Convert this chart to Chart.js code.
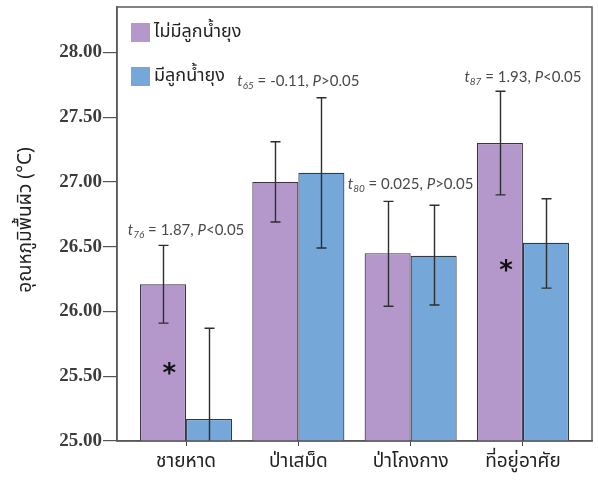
<!DOCTYPE html>
<html><head><meta charset="utf-8">
<script src="https://cdn.jsdelivr.net/npm/chart.js@4.4.1/dist/chart.umd.min.js"></script>
<style>html,body{margin:0;padding:0;background:#fff}#wrap{width:598px;height:481px}</style>
</head><body><div id="wrap"><canvas id="c" width="598" height="481"></canvas></div>
<script>
// Surface temperature by habitat, with / without mosquito larvae
const categories = ['ชายหาด', 'ป่าเสม็ด', 'ป่าโกงกาง', 'ที่อยู่อาศัย'];
const seriesNames = ['ไม่มีลูกน้ำยุง', 'มีลูกน้ำยุง'];

const noLarvae     = [26.21, 27.00, 26.45, 27.30];
const noLarvaeLow  = [25.91, 26.69, 26.04, 26.90];
const noLarvaeHigh = [26.51, 27.31, 26.85, 27.70];

const withLarvae     = [25.17, 27.07, 26.43, 26.53];
const withLarvaeLow  = [24.47, 26.49, 26.05, 26.18];
const withLarvaeHigh = [25.87, 27.65, 26.82, 26.87];

const yTickLabels = ['25.00', '25.50', '26.00', '26.50', '27.00', '27.50', '28.00'];

// t-test results per habitat
const testDf = ['76', '65', '80', '87'];
const testT  = ['1.87', '-0.11', '0.025', '1.93'];
const testP  = ['<0.05', '>0.05', '>0.05', '<0.05'];
const significant = [true, false, false, true];

// where each test label sits (data units)
const testLabelAt = [26.63, 27.78, 26.98, 27.81];
const starAt = [25.55, null, null, 26.35];

const purple = '#b598cb';
const blue = '#75a8d8';
const thaiFont = "'Noto Sans Thai', 'Noto Sans', 'DejaVu Sans', sans-serif";

function pts(vals) { return vals.map((v, i) => ({ x: i, y: v })); }

const errorBars = {
  id: 'errorBars',
  afterDatasetsDraw(chart) {
    const ctx = chart.ctx, ys = chart.scales.y, a = chart.chartArea;
    const lows = [noLarvaeLow, withLarvaeLow], highs = [noLarvaeHigh, withLarvaeHigh];
    ctx.save();
    ctx.beginPath(); ctx.rect(a.left, a.top, a.right - a.left, a.bottom - a.top); ctx.clip();
    ctx.strokeStyle = '#2e2e2e'; ctx.lineWidth = 1.4;
    [0, 1].forEach(d => {
      chart.getDatasetMeta(d).data.forEach((bar, i) => {
        const x = Math.round(bar.x) + 0.5;
        const y1 = ys.getPixelForValue(lows[d][i]);
        const y2 = ys.getPixelForValue(highs[d][i]);
        ctx.beginPath();
        ctx.moveTo(x, y1); ctx.lineTo(x, y2);
        ctx.moveTo(x - 5, y1); ctx.lineTo(x + 5, y1);
        ctx.moveTo(x - 5, y2); ctx.lineTo(x + 5, y2);
        ctx.stroke();
      });
    });
    ctx.restore();
  }
};

const decorations = {
  id: 'decorations',
  afterDraw(chart) {
    const ctx = chart.ctx, xs = chart.scales.x, ys = chart.scales.y, a = chart.chartArea;
    ctx.save();
    // frame
    ctx.strokeStyle = '#5a5a5a'; ctx.lineWidth = 1.5;
    ctx.strokeRect(a.left, a.top, a.right - a.left, a.bottom - a.top);

    // legend inside plot
    const cols = [purple, blue];
    const rowsY = [33, 77];
    seriesNames.forEach((name, i) => {
      ctx.fillStyle = cols[i];
      ctx.fillRect(a.left + 14, rowsY[i] - 10, 19, 19);
      ctx.fillStyle = '#222';
      ctx.font = "18px " + thaiFont;
      ctx.textBaseline = 'middle'; ctx.textAlign = 'left';
      ctx.fillText(name, a.left + 37, rowsY[i]);
    });

    // t-test labels
    const base = "15px Lato, 'Open Sans', sans-serif";
    const ital = "italic 15px Lato, 'Open Sans', sans-serif";
    const sub = "italic 10px Lato, 'Open Sans', sans-serif";
    ctx.fillStyle = '#4a4a4a';
    ctx.textBaseline = 'alphabetic';
    testDf.forEach((df, i) => {
      const parts = [
        [ital, 't', 0], [sub, df, 3], [base, ' = ' + testT[i] + ', ', 0],
        [ital, 'P', 0], [base, testP[i], 0]
      ];
      let w = 0;
      parts.forEach(p => { ctx.font = p[0]; w += ctx.measureText(p[1]).width; });
      let x = xs.getPixelForValue(i) - w / 2;
      const y = ys.getPixelForValue(testLabelAt[i]) + 5;
      ctx.textAlign = 'left';
      parts.forEach(p => {
        ctx.font = p[0];
        ctx.fillText(p[1], x, y + p[2]);
        x += ctx.measureText(p[1]).width;
      });
    });

    // significance stars
    ctx.fillStyle = '#111';
    ctx.font = "bold 26px 'DejaVu Sans', sans-serif";
    ctx.textAlign = 'center'; ctx.textBaseline = 'middle';
    significant.forEach((s, i) => {
      if (!s) return;
      ctx.fillText('*', xs.getPixelForValue(i - 0.15), ys.getPixelForValue(starAt[i]) + 6);
    });

    // y axis title
    ctx.translate(27, (a.top + a.bottom) / 2 - 4);
    ctx.rotate(-Math.PI / 2);
    ctx.fillStyle = '#222';
    ctx.font = "19px " + thaiFont;
    ctx.textAlign = 'center'; ctx.textBaseline = 'middle';
    ctx.fillText('อุณหภูมิพื้นผิว (°C)', 0, 0);
    ctx.restore();
  }
};

new Chart(document.getElementById('c'), {
  type: 'bar',
  data: {
    datasets: [
      { label: seriesNames[0], data: pts(noLarvae), backgroundColor: purple, borderColor: '#3a3442', borderWidth: 1.2 },
      { label: seriesNames[1], data: pts(withLarvae), backgroundColor: blue, borderColor: '#2f3a46', borderWidth: 1.2 }
    ]
  },
  options: {
    responsive: false,
    animation: false,
    devicePixelRatio: 1,
    layout: { padding: { top: 7, right: 6, left: 0, bottom: 0 } },
    categoryPercentage: 0.82,
    barPercentage: 1,
    plugins: { legend: { display: false }, tooltip: { enabled: false } },
    scales: {
      x: {
        type: 'linear',
        offset: false,
        min: -0.615, max: 3.615,
        afterFit: s => { s.height = 40; s.paddingLeft = 0; s.paddingRight = 0; },
        grid: { display: true, offset: false, drawOnChartArea: false, drawTicks: true, tickLength: 5, color: '#444' },
        border: { display: true, color: '#5a5a5a', width: 1.5 },
        ticks: {
          stepSize: 1, includeBounds: false, padding: 6, maxRotation: 0, autoSkip: false,
          color: '#222', font: { family: thaiFont, size: 19 },
          callback: v => categories[v] !== undefined && Number.isInteger(v) ? categories[v] : ''
        }
      },
      y: {
        min: 25, max: 28.35,
        afterFit: s => { s.width = 117; s.paddingTop = 0; s.paddingBottom = 0; },
        grid: { display: true, drawOnChartArea: false, drawTicks: true, tickLength: 14, color: '#555', lineWidth: 1.2 },
        border: { display: true, color: '#5a5a5a', width: 1.5 },
        ticks: {
          stepSize: 0.5, includeBounds: false, padding: 1, color: '#3c3c3c',
          font: { family: "'Liberation Serif', 'Times New Roman', serif", size: 19, weight: 'bold' },
          callback: (v) => yTickLabels[Math.round((v - 25) * 2)]
        }
      }
    }
  },
  plugins: [errorBars, decorations]
});
</script></body></html>
